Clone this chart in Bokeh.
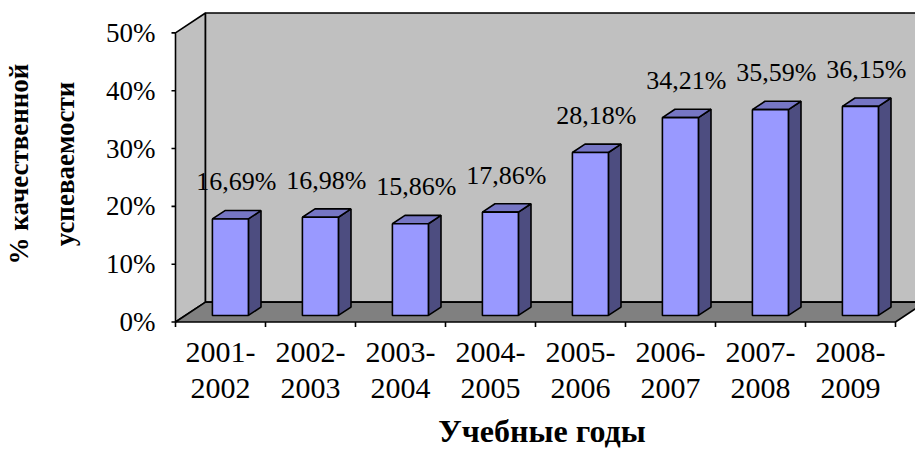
from bokeh.plotting import figure
from bokeh.models import Range1d, FixedTicker, PrintfTickFormatter, ColumnDataSource
from bokeh.embed import file_html
from bokeh.resources import INLINE
from bokeh.core.properties import value

# ---- data ----
years = ["2001-2002", "2002-2003", "2003-2004", "2004-2005",
         "2005-2006", "2006-2007", "2007-2008", "2008-2009"]
quality = [16.69, 16.98, 15.86, 17.86, 28.18, 34.21, 35.59, 36.15]
y_ticks = [0, 10, 20, 30, 40, 50]
y_max = 50
y_title = "% качественной\nуспеваемости"
x_title = "Учебные годы"

# ---- geometry / style ----
PX_X = 90.0          # pixels per category
PX_Y = 5.8           # pixels per percent
DX = 30 / PX_X       # depth shift (x)
DY = 20 / PX_Y       # depth shift (y)
Z0, Z1 = 0.33, 0.75  # bar depth (front / back)
HALF = 0.2           # half bar width
W, H = 915, 452
LEFT, BOTTOM = 168, 124
FONT = "Liberation Serif"

n = len(quality)
frame_w = W - LEFT
frame_h = H - BOTTOM
xs0 = -7 / PX_X
ys0 = -5.5 / PX_Y

p = figure(width=W, height=H, output_backend="svg", toolbar_location=None,
           x_range=Range1d(xs0, xs0 + frame_w / PX_X),
           y_range=Range1d(ys0, ys0 + frame_h / PX_Y),
           min_border_left=LEFT, min_border_right=0, min_border_top=0,
           min_border_bottom=BOTTOM)
p.outline_line_color = None
p.xgrid.visible = False
p.ygrid.visible = False
p.background_fill_color = "white"
p.border_fill_color = "white"

WALL = "#c0c0c0"
FLOOR = "#808080"
LW = 1.6

# side wall (left)
p.patch([0, 0, DX, DX], [0, y_max, y_max + DY, DY],
        fill_color=WALL, line_color="black", line_width=LW)
# back wall
p.patch([DX, DX, n + DX, n + DX], [DY, y_max + DY, y_max + DY, DY],
        fill_color=WALL, line_color="black", line_width=LW)
# floor
p.patch([0, DX, n + DX, n], [0, DY, DY, 0],
        fill_color=FLOOR, line_color="black", line_width=LW)

# bars
fx, fy, sx, sy, tx, ty = [], [], [], [], [], []
for i, v in enumerate(quality):
    c = i + 0.5
    xl, xr = c - HALF, c + HALF
    fx.append([xl + Z0 * DX, xr + Z0 * DX, xr + Z0 * DX, xl + Z0 * DX])
    fy.append([Z0 * DY, Z0 * DY, v + Z0 * DY, v + Z0 * DY])
    sx.append([xr + Z0 * DX, xr + Z1 * DX, xr + Z1 * DX, xr + Z0 * DX])
    sy.append([Z0 * DY, Z1 * DY, v + Z1 * DY, v + Z0 * DY])
    tx.append([xl + Z0 * DX, xr + Z0 * DX, xr + Z1 * DX, xl + Z1 * DX])
    ty.append([v + Z0 * DY, v + Z0 * DY, v + Z1 * DY, v + Z1 * DY])
p.patches(sx, sy, fill_color="#4d4d80", line_color="black", line_width=LW)
p.patches(tx, ty, fill_color="#7676c4", line_color="black", line_width=LW)
p.patches(fx, fy, fill_color="#9999ff", line_color="black", line_width=LW)

# value labels
lab = ColumnDataSource(dict(
    x=[i + 0.5 + Z0 * DX for i in range(n)],
    y=[v + Z0 * DY for v in quality],
    t=[f"{v:.2f}".replace(".", ",") + "%" for v in quality]))
p.text("x", "y", text="t", source=lab, text_font=value(FONT),
       text_font_size="26px", text_align="center", text_baseline="middle",
       x_offset=6, y_offset=-37, text_color="black")

# tick marks
p.segment(x0=[-4 / PX_X] * len(y_ticks), y0=y_ticks, x1=[0] * len(y_ticks),
          y1=y_ticks, line_color="black", line_width=LW)
bounds = list(range(n + 1))
p.segment(x0=bounds, y0=[0] * len(bounds), x1=bounds,
          y1=[-5 / PX_Y] * len(bounds), line_color="black", line_width=LW)

# y axis
ya = p.yaxis[0]
ya.ticker = FixedTicker(ticks=y_ticks)
ya.formatter = PrintfTickFormatter(format="%d%%")
ya.axis_line_color = None
ya.major_tick_line_color = None
ya.minor_tick_line_color = None
ya.major_label_standoff = 7
ya.major_label_text_font = FONT
ya.major_label_text_font_size = "27px"
ya.major_label_text_color = "black"
ya.axis_label = y_title
ya.axis_label_text_font = FONT
ya.axis_label_text_font_style = "bold"
ya.axis_label_text_font_size = "27px"
ya.axis_label_text_line_height = 1.55
ya.axis_label_standoff = 23
ya.axis_label_text_color = "black"

# x axis
xa = p.xaxis[0]
centers = [i + 0.5 for i in range(n)]
xa.ticker = FixedTicker(ticks=centers)
xa.major_label_overrides = {c: y.replace("-", "-\n") for c, y in zip(centers, years)}
xa.axis_line_color = None
xa.major_tick_line_color = None
xa.minor_tick_line_color = None
xa.major_label_standoff = 1
xa.major_label_text_font = FONT
xa.major_label_text_font_size = "30px"
xa.major_label_text_line_height = 1.11
xa.major_label_text_color = "black"
xa.axis_label = x_title
xa.axis_label_text_font = FONT
xa.axis_label_text_font_style = "bold"
xa.axis_label_text_font_size = "32px"
xa.axis_label_standoff = 6
xa.axis_label_text_color = "black"

open("out.html", "w").write(file_html(p, INLINE))
